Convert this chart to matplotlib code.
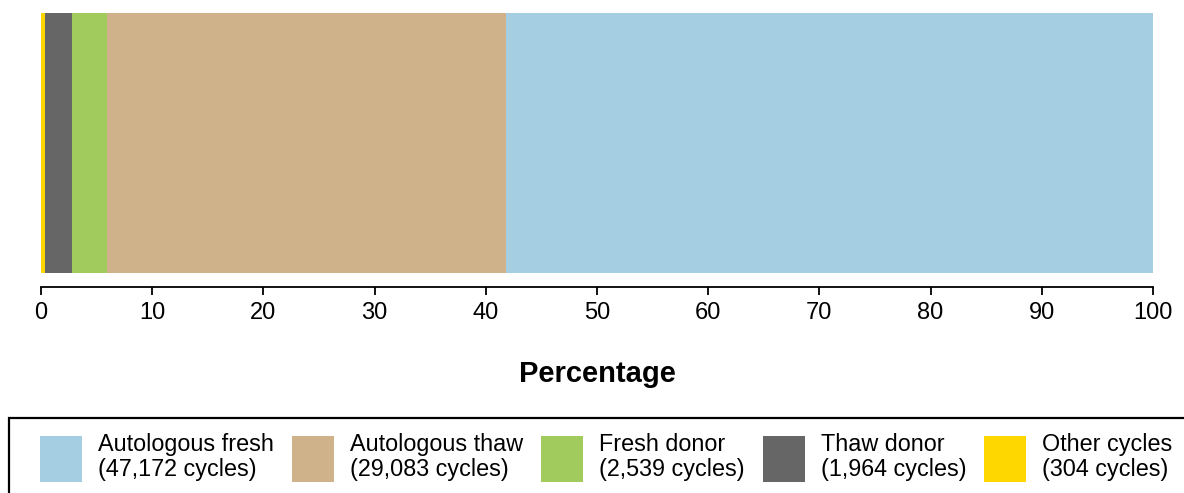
import matplotlib
matplotlib.use("Agg")
import matplotlib.pyplot as plt
from matplotlib.patches import Patch, Rectangle
import numpy as np

plt.rcParams['font.family'] = ['Liberation Sans', 'DejaVu Sans']

categories = ["Other cycles", "Thaw donor", "Fresh donor", "Autologous thaw", "Autologous fresh"]
counts = [304, 1964, 2539, 29083, 47172]
colors = ["#FFD700", "#666666", "#A1CB5C", "#D0B28A", "#A6CEE3"]
legend_order = ["Autologous fresh", "Autologous thaw", "Fresh donor", "Thaw donor", "Other cycles"]
xticks = [0, 10, 20, 30, 40, 50, 60, 70, 80, 90, 100]

total = sum(counts)
pcts = [c / total * 100 for c in counts]

W, H = 1184, 493
fig = plt.figure(figsize=(W/100, H/100), dpi=100)
ax = fig.add_axes([41/W, 1 - 273/H, (1153-41)/W, (273-13)/H])

left = 0
for cat, p, col in zip(categories, pcts, colors):
    ax.barh(0, p, left=left, height=1.0, color=col, edgecolor='none')
    left += p

ax.set_xlim(0, 100)
ax.set_ylim(-0.5, 0.5)
ax.set_yticks([])
for s in ['top', 'right', 'left']:
    ax.spines[s].set_visible(False)
ax.spines['bottom'].set_position(('outward', 10))
ax.spines['bottom'].set_bounds(0, 100)
ax.spines['bottom'].set_linewidth(1.3)
ax.set_xticks(xticks)
ax.tick_params(axis='x', labelsize=17, length=6, width=1.3, pad=5)
ax.set_xlabel("Percentage", fontsize=21, fontweight='bold', labelpad=26)

handles = []
labels = []
for name in legend_order:
    i = categories.index(name)
    handles.append(Patch(facecolor=colors[i], edgecolor='none'))
    labels.append(f"{name}\n({counts[i]:,} cycles)")

fs = 16.85
px = fs * 100 / 72
leg = fig.legend(handles, labels, loc='upper left', bbox_to_anchor=(40/W, 1 - 433/H),
                 ncol=5, fontsize=fs, frameon=False,
                 handlelength=42/px, handleheight=61/px, handletextpad=16/px,
                 columnspacing=18/px, borderpad=0, borderaxespad=0)
for t in leg.get_texts():
    t.set_linespacing(1.12)

fig.add_artist(Rectangle((9/W, -0.1), 1.2, (1 - 418/H) + 0.1, transform=fig.transFigure,
                         facecolor='none', edgecolor='black', linewidth=1.6, clip_on=False))

fig.savefig("out.png", dpi=100)
